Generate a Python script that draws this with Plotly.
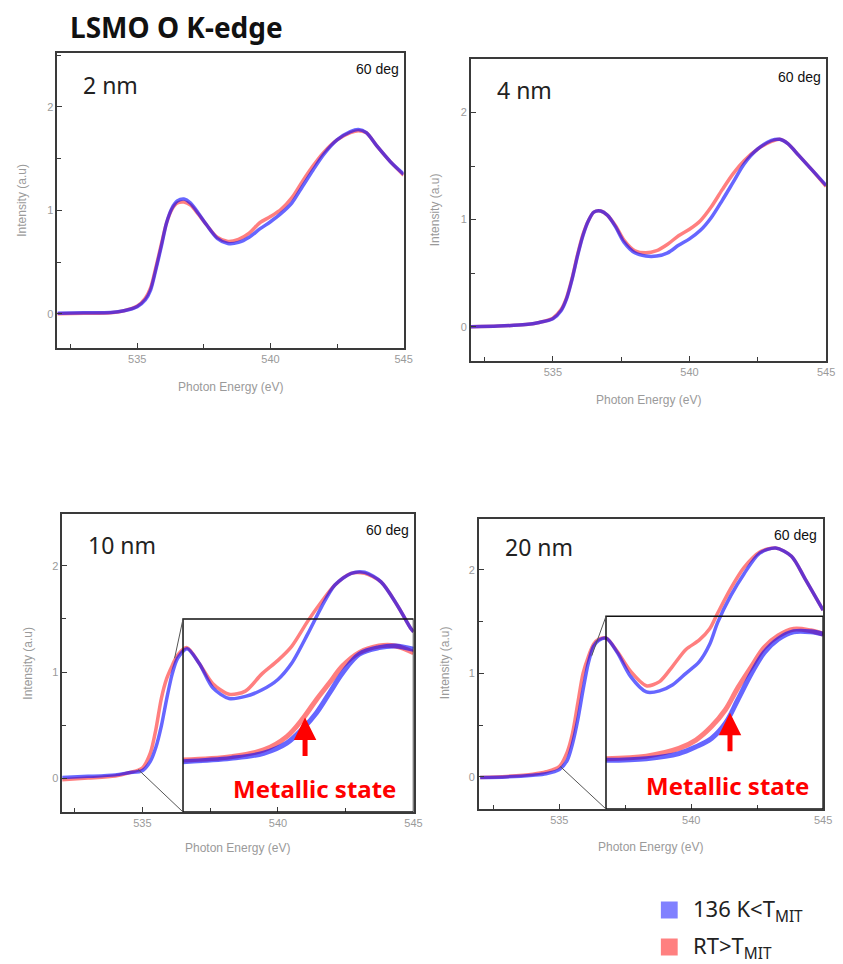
import plotly.graph_objects as go

W, H = 843, 964

# ---------------- data ----------------
energy_thin = [532, 533, 534, 534.5, 535, 535.3, 535.5, 535.7, 535.9, 536.1, 536.3, 536.5,
               536.75, 537.0, 537.3, 537.6, 538.0, 538.4, 538.8, 539.2, 539.6, 540.0, 540.4,
               540.8, 541.2, 541.6, 542.0, 542.5, 543.0, 543.3, 543.6, 544.0, 544.5, 545]

low_2nm = [0.006, 0.01, 0.013, 0.03, 0.07, 0.135, 0.23, 0.43, 0.65, 0.88, 1.02, 1.09,
           1.11, 1.07, 0.97, 0.86, 0.73, 0.68, 0.69, 0.74, 0.82, 0.89, 0.97,
           1.07, 1.23, 1.39, 1.54, 1.68, 1.76, 1.78, 1.75, 1.62, 1.47, 1.35]
rt_2nm = [0.0, 0.005, 0.01, 0.03, 0.075, 0.15, 0.25, 0.45, 0.67, 0.88, 1.01, 1.07,
          1.08, 1.05, 0.96, 0.86, 0.74, 0.70, 0.72, 0.78, 0.88, 0.94, 1.01,
          1.12, 1.28, 1.43, 1.56, 1.68, 1.75, 1.77, 1.75, 1.62, 1.47, 1.34]

low_4nm = [0.0, 0.006, 0.02, 0.04, 0.075, 0.15, 0.26, 0.44, 0.66, 0.85, 0.99, 1.07,
           1.08, 1.04, 0.93, 0.79, 0.69, 0.66, 0.66, 0.69, 0.76, 0.82, 0.90,
           1.02, 1.18, 1.35, 1.52, 1.66, 1.74, 1.75, 1.71, 1.60, 1.46, 1.32]
rt_4nm = [0.0, 0.006, 0.02, 0.04, 0.08, 0.16, 0.27, 0.45, 0.67, 0.86, 0.99, 1.07,
          1.08, 1.04, 0.94, 0.81, 0.71, 0.69, 0.71, 0.77, 0.85, 0.91, 0.99,
          1.12, 1.28, 1.43, 1.55, 1.66, 1.73, 1.75, 1.71, 1.60, 1.46, 1.31]

energy_10nm = [532, 533, 534, 534.5, 535, 535.3, 535.5, 535.7, 535.9, 536.1, 536.3, 536.65,
               537.1, 537.6, 538.2, 538.8, 539.4, 540.0, 540.5, 541.1, 541.6, 542.1, 542.7,
               543.2, 543.8, 544.4, 544.9, 545.0]
low_10nm = [0.006, 0.016, 0.03, 0.05, 0.07, 0.16, 0.29, 0.49, 0.75, 0.98, 1.13, 1.22,
            1.08, 0.85, 0.75, 0.77, 0.83, 0.93, 1.08, 1.36, 1.61, 1.82, 1.93,
            1.94, 1.85, 1.63, 1.41, 1.38]
rt_10nm = [-0.016, 0.0, 0.02, 0.05, 0.095, 0.24, 0.46, 0.75, 0.94, 1.06, 1.16, 1.23,
           1.08, 0.89, 0.79, 0.82, 0.98, 1.11, 1.24, 1.48, 1.66, 1.82, 1.93,
           1.93, 1.85, 1.63, 1.41, 1.38]

energy_20nm = [532, 533, 534, 534.5, 535, 535.3, 535.5, 535.7, 535.9, 536.1, 536.3, 536.5,
               536.78, 537.2, 537.7, 538.3, 538.8, 539.3, 539.8, 540.3, 540.7, 541.0, 541.5,
               542.0, 542.6, 543.2, 543.8, 544.3, 545.0]
low_20nm = [-0.006, 0.0, 0.016, 0.03, 0.07, 0.16, 0.32, 0.55, 0.84, 1.10, 1.26, 1.32,
            1.34, 1.20, 0.97, 0.82, 0.83, 0.89, 1.00, 1.11, 1.28, 1.49, 1.75,
            1.96, 2.16, 2.21, 2.13, 1.92, 1.61]
rt_20nm = [-0.006, 0.005, 0.026, 0.05, 0.10, 0.24, 0.42, 0.71, 1.00, 1.16, 1.28, 1.33,
           1.34, 1.21, 1.02, 0.88, 0.92, 1.07, 1.23, 1.32, 1.43, 1.58, 1.82,
           2.02, 2.17, 2.21, 2.13, 1.92, 1.61]

# zoomed edge (insets)
inset_energy_10nm = [535.0, 535.29, 535.49, 535.63, 535.73, 535.81, 535.89, 535.97, 536.07,
                     536.19, 536.29, 536.4]
inset_low_10nm = [0.165, 0.189, 0.226, 0.299, 0.408, 0.518, 0.664, 0.810, 0.944, 0.992, 1.004, 0.980]
inset_rt_10nm = [0.177, 0.201, 0.250, 0.347, 0.481, 0.615, 0.737, 0.860, 0.956, 1.004, 1.004, 0.956]

inset_energy_20nm = [535.0, 535.26, 535.47, 535.58, 535.68, 535.77, 535.85, 535.94, 536.02,
                     536.11, 536.21, 536.32, 536.4]
inset_low_20nm = [0.154, 0.166, 0.203, 0.252, 0.313, 0.423, 0.594, 0.790, 0.936, 1.034, 1.088, 1.088, 1.071]
inset_rt_20nm = [0.166, 0.184, 0.240, 0.301, 0.399, 0.521, 0.680, 0.838, 0.973, 1.058, 1.107, 1.095, 1.071]

panel_labels = ["2 nm", "4 nm", "10 nm", "20 nm"]
angle_label = "60 deg"
x_title = "Photon Energy (eV)"
y_title = "Intensity (a.u)"
legend_low = "136 K<T<sub>MIT</sub>"
legend_rt = "RT>T<sub>MIT</sub>"
x_ticks = [535, 540, 545]
y_ticks = [0, 1, 2]

# ---------------- styling ----------------
BLUE = "rgba(0,0,255,0.6)"
RED = "rgba(255,0,0,0.5)"
FRAME = "#3a3a3a"
GRAY = "#9a9a9a"
NARROW = "Liberation Sans Narrow, Arial Narrow, Liberation Sans, Arial"
SANS = "Noto Sans, Open Sans, Liberation Sans"


def fx(px):
    return px / W


def fy(py):
    return 1 - py / H


# panel frames in pixels: (left, right, top, bottom), axis ranges
panels = [
    dict(frame=(58, 408, 53, 348), xr=[532.0, 545.0], yr=[-0.33, 2.52],
         e=energy_thin, low=low_2nm, rt=rt_2nm,
         lab=(82, 85), ang=(405, 69), xt=(233, 387), yt=(22, 200)),
    dict(frame=(476, 835, 59, 361), xr=[532.0, 545.0], yr=[-0.32, 2.50],
         e=energy_thin, low=low_4nm, rt=rt_4nm,
         lab=(500, 90), ang=(832, 77), xt=(655, 400), yt=(440, 210)),
    dict(frame=(63, 418, 514, 812), xr=[532.05, 545.0], yr=[-0.32, 2.49],
         e=energy_10nm, low=low_10nm, rt=rt_10nm,
         lab=(87, 545), ang=(415, 530), xt=(240, 848), yt=(28, 663)),
    dict(frame=(484, 832, 519, 809), xr=[531.95, 545.0], yr=[-0.31, 2.49],
         e=energy_20nm, low=low_20nm, rt=rt_20nm,
         lab=(508, 547), ang=(828, 535), xt=(658, 847), yt=(450, 663)),
]

fig = go.Figure()
layout = dict(width=W, height=H, margin=dict(l=0, r=0, t=0, b=0),
              paper_bgcolor="white", plot_bgcolor="rgba(0,0,0,0)", showlegend=False)
annotations = []
shapes = []

for i, p in enumerate(panels):
    n = i + 1
    sx = "" if n == 1 else str(n)
    l, r, t, b = p["frame"]
    layout["xaxis" + sx] = dict(
        domain=[fx(l), fx(r)], range=p["xr"], anchor="y" + sx,
        showline=True, linecolor=FRAME, linewidth=1.5, mirror=True,
        ticks="inside", ticklen=5, tickcolor=FRAME, tickwidth=1,
        tickmode="array", tickvals=x_ticks, ticktext=[str(v) for v in x_ticks],
        minor=dict(ticks="inside", ticklen=4, tickcolor=FRAME, dtick=2.5, tick0=532.5),
        showgrid=False, zeroline=False,
        tickfont=dict(family=NARROW, size=11, color=GRAY))
    layout["yaxis" + sx] = dict(
        domain=[fy(b), fy(t)], range=p["yr"], anchor="x" + sx,
        showline=True, linecolor=FRAME, linewidth=1.5, mirror=True,
        ticks="inside", ticklen=5, tickcolor=FRAME, tickwidth=1,
        tickmode="array", tickvals=y_ticks, ticktext=[str(v) for v in y_ticks],
        minor=dict(ticks="inside", ticklen=4, tickcolor=FRAME, dtick=0.5, tick0=0),
        showgrid=False, zeroline=False,
        tickfont=dict(family=NARROW, size=11, color=GRAY))

    fig.add_trace(go.Scatter(x=p["e"], y=p["rt"], mode="lines", xaxis="x" + sx, yaxis="y" + sx,
                             line=dict(color=RED, width=3.5, shape="spline", smoothing=0.8),
                             name="RT", cliponaxis=True))
    fig.add_trace(go.Scatter(x=p["e"], y=p["low"], mode="lines", xaxis="x" + sx, yaxis="y" + sx,
                             line=dict(color=BLUE, width=3.5, shape="spline", smoothing=0.8),
                             name="136 K", cliponaxis=True))

    annotations.append(dict(text=panel_labels[i], x=fx(p["lab"][0]), y=fy(p["lab"][1]),
                            xref="paper", yref="paper", xanchor="left", yanchor="middle",
                            showarrow=False, font=dict(family=SANS, size=23, color="#222")))
    annotations.append(dict(text=angle_label, x=fx(p["ang"][0]), y=fy(p["ang"][1]),
                            xref="paper", yref="paper", xanchor="right", yanchor="middle",
                            showarrow=False, font=dict(family=NARROW, size=14, color="#111")))
    annotations.append(dict(text=x_title, x=fx(p["xt"][0]), y=fy(p["xt"][1]),
                            xref="paper", yref="paper", xanchor="center", yanchor="middle",
                            showarrow=False, font=dict(family=NARROW, size=12, color=GRAY)))
    annotations.append(dict(text=y_title, x=fx(p["yt"][0]), y=fy(p["yt"][1]), textangle=-90,
                            xref="paper", yref="paper", xanchor="center", yanchor="middle",
                            showarrow=False, font=dict(family=NARROW, size=12, color=GRAY)))

# ---------------- insets ----------------
insets = [
    dict(parent=3, x0=536.5, y1=1.5, src=[(534.85, 0.08), (536.19, 1.13)],
         e=inset_energy_10nm, low=inset_low_10nm, rt=inset_rt_10nm,
         arrow=(541.0, 0.57), text=(541.34, -0.095)),
    dict(parent=4, x0=536.77, y1=1.55, src=[(535.04, 0.10), (536.23, 1.17)],
         e=inset_energy_20nm, low=inset_low_20nm, rt=inset_rt_20nm,
         arrow=(541.47, 0.62), text=(541.39, -0.087)),
]
INSET_XR = [535.0, 536.4]
INSET_YR = [-0.2, 1.2]

for k, ins in enumerate(insets):
    par = ins["parent"]
    ps = str(par)
    pax = layout["xaxis" + ps]
    pay = layout["yaxis" + ps]
    xr, yr = pax["range"], pay["range"]
    dx, dy = pax["domain"], pay["domain"]
    ix0 = dx[0] + (ins["x0"] - xr[0]) / (xr[1] - xr[0]) * (dx[1] - dx[0])
    iy1 = dy[0] + (ins["y1"] - yr[0]) / (yr[1] - yr[0]) * (dy[1] - dy[0])
    s = str(5 + k)
    layout["xaxis" + s] = dict(domain=[ix0, dx[1]], range=INSET_XR, anchor="y" + s,
                               visible=False, showgrid=False, zeroline=False)
    layout["yaxis" + s] = dict(domain=[dy[0], iy1], range=INSET_YR, anchor="x" + s,
                               visible=False, showgrid=False, zeroline=False)
    fig.add_trace(go.Scatter(x=ins["e"], y=ins["rt"], mode="lines", xaxis="x" + s, yaxis="y" + s,
                             line=dict(color=RED, width=5, shape="spline"), name="RT zoom"))
    fig.add_trace(go.Scatter(x=ins["e"], y=ins["low"], mode="lines", xaxis="x" + s, yaxis="y" + s,
                             line=dict(color=BLUE, width=5, shape="spline"), name="136 K zoom"))

    # inset frame and zoom connectors
    shapes.append(dict(type="rect", xref="x" + ps, yref="y" + ps,
                       x0=ins["x0"], x1=xr[1], y0=yr[0], y1=ins["y1"],
                       line=dict(color="#111", width=1.5), fillcolor="rgba(0,0,0,0)", layer="above"))
    (sx0, sy0), (sx1, sy1) = ins["src"]
    shapes.append(dict(type="line", xref="x" + ps, yref="y" + ps,
                       x0=sx0, y0=sy0, x1=ins["x0"], y1=yr[0],
                       line=dict(color="#555", width=1)))
    shapes.append(dict(type="line", xref="x" + ps, yref="y" + ps,
                       x0=sx1, y0=sy1, x1=ins["x0"], y1=ins["y1"],
                       line=dict(color="#555", width=1)))

    annotations.append(dict(x=ins["arrow"][0], y=ins["arrow"][1], xref="x" + ps, yref="y" + ps,
                            ax=0, ay=40, axref="pixel", ayref="pixel", text="",
                            showarrow=True, arrowhead=2, arrowsize=0.9, arrowwidth=5,
                            arrowcolor="#ff0000"))
    annotations.append(dict(x=ins["text"][0], y=ins["text"][1], xref="x" + ps, yref="y" + ps,
                            text="<b>Metallic state</b>", showarrow=False,
                            xanchor="center", yanchor="middle",
                            font=dict(family=SANS, size=24, color="#ff0000")))

# ---------------- title & legend ----------------
annotations.append(dict(text="<b>LSMO O K-edge</b>", x=fx(69), y=fy(27), xref="paper", yref="paper",
                        xanchor="left", yanchor="middle", showarrow=False,
                        font=dict(family=SANS, size=28, color="#111")))

legend_items = [(legend_low, "#8080ff", 910), (legend_rt, "#ff8080", 947)]
for txt, col, yc in legend_items:
    shapes.append(dict(type="rect", xref="paper", yref="paper",
                       x0=fx(668), x1=fx(685), y0=fy(yc + 8.5), y1=fy(yc - 8.5),
                       line=dict(width=0), fillcolor=col))
    annotations.append(dict(text=txt, x=fx(698), y=fy(yc), xref="paper", yref="paper",
                            xanchor="left", yanchor="middle", showarrow=False,
                            font=dict(family=SANS, size=22, color="#222")))

layout["annotations"] = annotations
layout["shapes"] = shapes
fig.update_layout(**layout)
fig.write_html("out.html", config={"displayModeBar": False},
               post_script="document.body.style.margin='0px';")
